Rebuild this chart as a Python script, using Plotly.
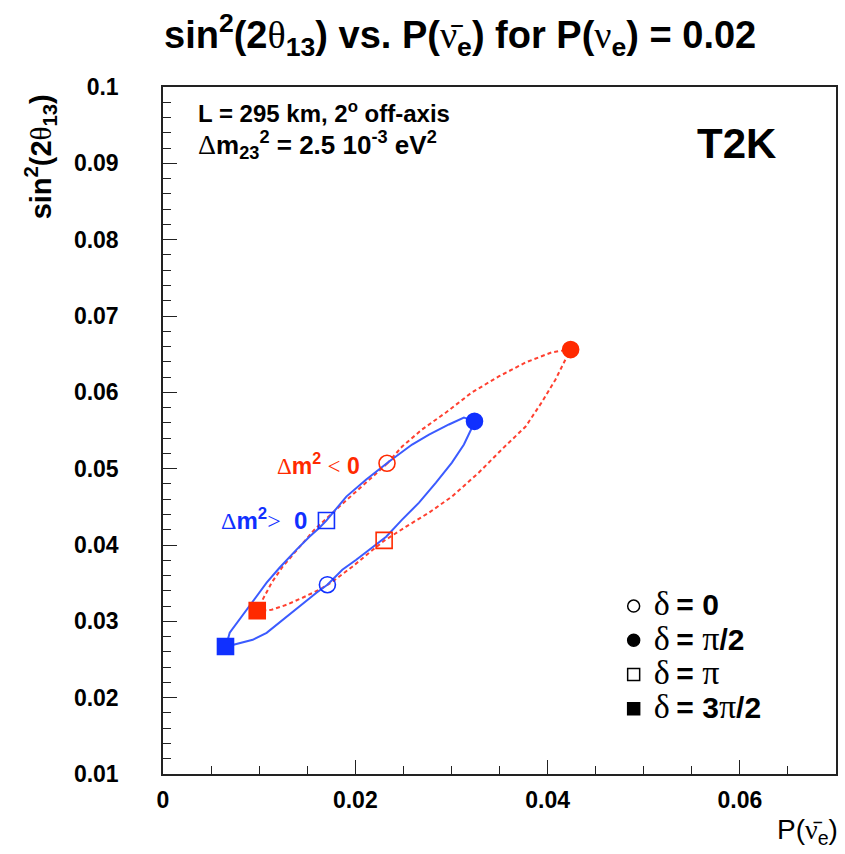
import plotly.graph_objects as go

# sin^2(2theta13) vs P(anti-nu_e) contours for P(nu_e) = 0.02, T2K baseline
# Normal hierarchy (dm^2 > 0): closed contour as delta goes round
pos_x = [0.01710, 0.01865, 0.02010, 0.02145, 0.02321, 0.02487, 0.02663, 0.02839,
         0.03005, 0.03130, 0.03202, 0.03244, 0.03130, 0.02974, 0.02767, 0.02591,
         0.02352, 0.02114, 0.01907, 0.01699, 0.01627, 0.01523, 0.01389, 0.01212,
         0.01078, 0.00922, 0.00798, 0.00694, 0.00653, 0.00933, 0.01078, 0.01244,
         0.01420, 0.01596, 0.01710]
pos_y = [0.03479, 0.03676, 0.03807, 0.03939, 0.04109, 0.04332, 0.04555, 0.04818,
         0.05080, 0.05316, 0.05513, 0.05618, 0.05670, 0.05579, 0.05447, 0.05316,
         0.05093, 0.04857, 0.04634, 0.04319, 0.04227, 0.04109, 0.03939, 0.03702,
         0.03506, 0.03243, 0.03020, 0.02850, 0.02666, 0.02758, 0.02850, 0.03020,
         0.03191, 0.03374, 0.03479]

# Inverted hierarchy (dm^2 < 0)
neg_x = [0.02332, 0.02487, 0.02694, 0.02943, 0.03212, 0.03492, 0.03772, 0.04041,
         0.04238, 0.04187, 0.04083, 0.03938, 0.03772, 0.03523, 0.03285, 0.03005,
         0.02767, 0.02528, 0.02301, 0.02145, 0.01969, 0.01762, 0.01627, 0.01451,
         0.01285, 0.01130, 0.00984, 0.01036, 0.01130, 0.01244, 0.01420, 0.01575,
         0.01834, 0.02114, 0.02332]
neg_y = [0.05067, 0.05290, 0.05513, 0.05736, 0.05998, 0.06208, 0.06392, 0.06523,
         0.06563, 0.06431, 0.06169, 0.05867, 0.05552, 0.05251, 0.04949, 0.04634,
         0.04424, 0.04240, 0.04057, 0.03899, 0.03716, 0.03519, 0.03414, 0.03309,
         0.03217, 0.03151, 0.03138, 0.03283, 0.03506, 0.03716, 0.03978, 0.04201,
         0.04503, 0.04818, 0.05067]

# Points at delta = 0, pi/2, pi, 3pi/2
delta_labels = ["δ = 0", "δ = π/2", "δ = π", "δ = 3π/2"]
delta_symbols = ["circle-open", "circle", "square-open", "square"]
pos_pts_x = [0.0171, 0.0324, 0.0170, 0.0065]
pos_pts_y = [0.0348, 0.0562, 0.0432, 0.0267]
neg_pts_x = [0.0233, 0.0424, 0.0230, 0.0098]
neg_pts_y = [0.0507, 0.0656, 0.0406, 0.0314]

BLUE_LINE = "#3b5bff"
BLUE_MARK = "#1030ff"
RED_LINE = "#ff4030"
RED_MARK = "#ff2a00"
SANS = "Liberation Sans, Arial, Helvetica"
SERIF = "Liberation Serif, Times New Roman, serif"

L, R, T, B = 163, 7, 87, 80
W, H = 845, 854
PW, PH = W - L - R, H - T - B


def px(x):
    return (x - L) / PW


def py(y):
    return (H - B - y) / PH


def g(s, size=None):
    sz = f";font-size:{size}px" if size else ""
    return f"<span style='font-family:{SERIF};font-weight:normal{sz}'>{s}</span>"


fig = go.Figure()

fig.add_trace(go.Scatter(x=neg_x, y=neg_y, mode="lines",
                         line=dict(color=RED_LINE, width=2, dash="4px,3px"),
                         showlegend=False, hoverinfo="skip"))
fig.add_trace(go.Scatter(x=pos_x, y=pos_y, mode="lines",
                         line=dict(color=BLUE_LINE, width=2),
                         showlegend=False, hoverinfo="skip"))

for xs, ys, col in [(pos_pts_x, pos_pts_y, BLUE_MARK), (neg_pts_x, neg_pts_y, RED_MARK)]:
    for i in range(4):
        fig.add_trace(go.Scatter(
            x=[xs[i]], y=[ys[i]], mode="markers",
            marker=dict(symbol=delta_symbols[i], size=16, color=col,
                        line=dict(color=col, width=1.6)),
            showlegend=False))

# legend keys (black markers)
for i in range(4):
    greek, rest = delta_labels[i].split(" = ")
    rest = rest.replace("π", g("π", 34))
    text = f"{g(greek, 34)} <b style='font-size:30px'>= {rest}</b>"
    fig.add_trace(go.Scatter(
        x=[None], y=[None], mode="markers", name=text,
        marker=dict(symbol=delta_symbols[i], size=12, color="black",
                    line=dict(color="black", width=1.5))))

ann = []
# title
ann.append(dict(
    x=px(461), y=py(35), xref="paper", yref="paper",
    text=(f"<b>sin<sup>2</sup>(2</b>{g('θ')}<b><sub>13</sub>) vs. P(</b>{g('ν̄')}"
          f"<b><sub>e</sub>) for P(</b>{g('ν')}<b><sub>e</sub>) = 0.02</b>"),
    showarrow=False, font=dict(family=SANS, size=38, color="black"),
    xanchor="center", yanchor="middle"))
# axis titles
ann.append(dict(
    x=px(40), y=py(157), xref="paper", yref="paper", textangle=-90,
    text=f"<b>sin<sup>2</sup>(2</b>{g('θ')}<b><sub>13</sub>)</b>",
    showarrow=False, font=dict(family=SANS, size=29, color="black"),
    xanchor="center", yanchor="middle"))
ann.append(dict(
    x=px(842), y=py(832), xref="paper", yref="paper",
    text=f"P({g('ν̄')}<sub>e</sub>)",
    showarrow=False, font=dict(family=SANS, size=28, color="black"),
    xanchor="right", yanchor="middle"))
# info text
ann.append(dict(
    x=px(196), y=py(112), xref="paper", yref="paper",
    text="<b>L = 295 km, 2<sup>o</sup> off-axis</b>",
    showarrow=False, font=dict(family=SANS, size=24, color="black"),
    xanchor="left", yanchor="middle"))
ann.append(dict(
    x=px(196), y=py(145), xref="paper", yref="paper",
    text=f"{g('Δ', 28)}<b>m<sub>23</sub><sup>2</sup> = 2.5 10<sup>-3</sup> eV<sup>2</sup></b>",
    showarrow=False, font=dict(family=SANS, size=26, color="black"),
    xanchor="left", yanchor="middle"))
ann.append(dict(
    x=px(738), y=py(143), xref="paper", yref="paper",
    text="<b>T2K</b>", showarrow=False,
    font=dict(family=SANS, size=42, color="black"),
    xanchor="center", yanchor="middle"))
# hierarchy labels
ann.append(dict(
    x=px(363), y=py(464), xref="paper", yref="paper",
    text=f"{g('Δ')}<b>m<sup>2</sup></b> {g('&lt;')} <b>0</b>",
    showarrow=False, font=dict(family=SANS, size=23, color=RED_MARK),
    xanchor="right", yanchor="middle"))
ann.append(dict(
    x=px(309), y=py(519), xref="paper", yref="paper",
    text=f"{g('Δ')}<b>m<sup>2</sup></b>{g('&gt;')}  <b>0</b>",
    showarrow=False, font=dict(family=SANS, size=24, color=BLUE_MARK),
    xanchor="right", yanchor="middle"))

fig.update_layout(
    width=W, height=H,
    margin=dict(l=L, r=R, t=T, b=B),
    paper_bgcolor="white", plot_bgcolor="white",
    annotations=ann,
    showlegend=True,
    legend=dict(x=px(615), y=py(584), xanchor="left", yanchor="top",
                bgcolor="rgba(0,0,0,0)", borderwidth=0,
                font=dict(family=SANS, size=24, color="black"),
                tracegroupgap=0, itemwidth=30),
    xaxis=dict(range=[0, 0.07], showgrid=False, zeroline=False,
               showline=True, mirror=True, linecolor="#222", linewidth=1.5,
               ticks="inside", ticklen=14, tickwidth=1.2, tickcolor="#222",
               tickvals=[0, 0.02, 0.04, 0.06], ticktext=["0", "0.02", "0.04", "0.06"],
               minor=dict(dtick=0.005, ticks="inside", ticklen=8, tickcolor="#222", tickwidth=1.2),
               tickfont=dict(family=SANS, size=23, color="black", weight="bold"),
               ticklabelstandoff=5),
    yaxis=dict(range=[0.01, 0.1], showgrid=False, zeroline=False,
               showline=True, mirror=True, linecolor="#222", linewidth=1.5,
               ticks="inside", ticklen=14, tickwidth=1.2, tickcolor="#222",
               tickvals=[0.01 * k for k in range(1, 11)],
               ticktext=["0.01", "0.02", "0.03", "0.04", "0.05", "0.06", "0.07", "0.08", "0.09", "0.1"],
               minor=dict(dtick=0.002, ticks="inside", ticklen=8, tickcolor="#222", tickwidth=1.2),
               tickfont=dict(family=SANS, size=23, color="black", weight="bold"),
               ticklabelstandoff=38),
)

fig.write_html("out.html")
